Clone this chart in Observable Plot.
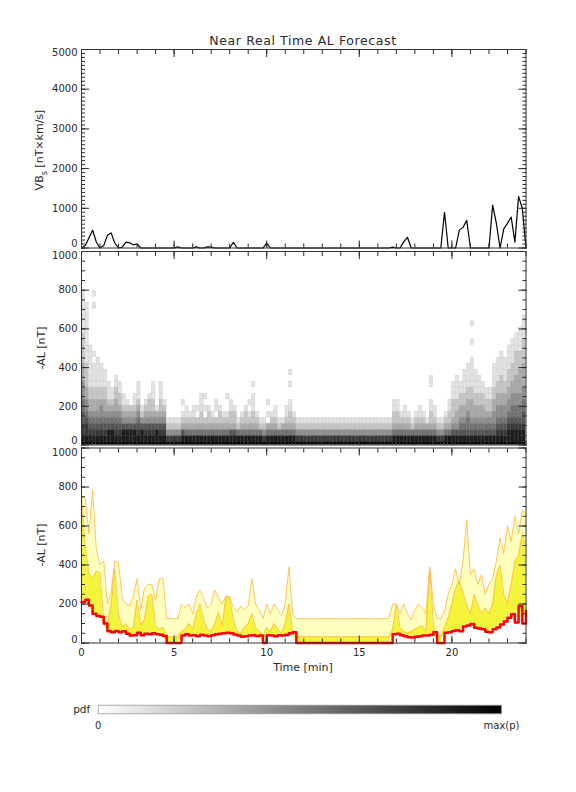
<!DOCTYPE html>
<html><head><meta charset="utf-8">
<script src="https://cdn.jsdelivr.net/npm/d3@7"></script>
<script src="https://cdn.jsdelivr.net/npm/@observablehq/plot@0.6"></script>
<style>
body{margin:0;background:#fff;}
#wrap{position:relative;width:576px;height:792px;overflow:hidden;font-family:"DejaVu Sans",sans-serif;color:#2a2a2a;}
#wrap svg{position:absolute;left:0;}
.lbl{position:absolute;white-space:nowrap;transform:translate(-50%,-50%);font-size:11px;}
.rot{transform:translate(-50%,-50%) rotate(-90deg);}
</style></head><body><div id="wrap"></div>
<script>
// ---------------- DATA ----------------
// time grid: 0 .. 24 min every 0.2 min (121 samples)
const timeMin = d3.range(121).map(i => Math.round(i * 2) / 10);

// VBs [nT x km/s]
const vbs = [
  0, 60, 250, 450, 150, 0, 60, 320, 380, 120,
  0, 20, 150, 130, 80, 100, 0, 0, 0, 0,
  0, 0, 0, 0, 0, 0, 30, 0, 0, 0,
  0, 30, 0, 0, 30, 20, 0, 0, 0, 0,
  0, 140, 0, 0, 0, 0, 0, 0, 0, 0,
  120, 0, 0, 0, 0, 0, 0, 0, 0, 0,
  0, 0, 0, 0, 0, 0, 0, 0, 0, 0,
  0, 0, 0, 0, 0, 0, 0, 0, 0, 0,
  0, 0, 0, 0, 20, 0, 0, 160, 270, 0,
  0, 0, 0, 0, 0, 0, 0, 0, 900, 0,
  0, 0, 450, 520, 700, 0, 0, 0, 0, 0,
  0, 1080, 620, 0, 480, 620, 780, 150, 1300, 1000,
  0
];

// -AL forecast: median (red)
const alMedian = [
  210, 222, 192, 150, 138, 135, 100, 60, 55, 62,
  55, 60, 48, 38, 40, 52, 40, 48, 45, 50,
  45, 42, 36, 0, 0, 0, 0, 38, 45, 38,
  40, 35, 42, 38, 35, 40, 45, 48, 50, 52,
  50, 44, 38, 32, 35, 38, 40, 36, 38, 0,
  40, 38, 35, 40, 38, 42, 50, 55, 0, 0,
  0, 0, 0, 0, 0, 0, 0, 0, 0, 0,
  0, 0, 0, 0, 0, 0, 0, 0, 0, 0,
  0, 0, 0, 0, 45, 48, 40, 35, 30, 28,
  32, 35, 38, 38, 42, 55, 0, 0, 52, 55,
  62, 65, 60, 85, 90, 98, 78, 75, 70, 58,
  55, 70, 80, 95, 110, 130, 148, 105, 190, 100,
  165
];

// -AL forecast: inner upper quantile (bright yellow top)
const alInner = [
  740, 500, 360, 330, 370, 360, 120, 100, 200, 380,
  150, 80, 100, 70, 80, 220, 90, 120, 240, 250,
  90, 70, 80, 32, 32, 32, 32, 60, 70, 100,
  70, 150, 200, 120, 70, 60, 100, 160, 90, 240,
  230, 120, 60, 50, 80, 100, 150, 80, 60, 32,
  80, 60, 100, 70, 50, 100, 200, 60, 32, 32,
  32, 32, 32, 32, 32, 32, 32, 32, 32, 32,
  32, 32, 32, 32, 32, 32, 32, 32, 32, 32,
  32, 32, 32, 32, 70, 200, 80, 60, 50, 60,
  70, 80, 90, 60, 380, 90, 32, 32, 80, 130,
  200, 280, 320, 260, 200, 150, 250, 200, 150, 180,
  150, 200, 350, 400, 250, 200, 300, 420, 450, 560,
  500
];

// -AL forecast: outer upper quantile (light yellow top)
const alOuter = [
  750, 745, 560, 785, 480, 400, 420, 200, 260, 420,
  410, 230, 200, 190, 240, 330, 170, 280, 300, 300,
  220, 330, 330, 125, 125, 125, 125, 200, 180, 200,
  150, 240, 270, 230, 180, 200, 270, 230, 200, 240,
  240, 180, 160, 190, 170, 190, 330, 200, 170, 125,
  200, 150, 200, 170, 140, 200, 390, 150, 125, 125,
  125, 125, 125, 125, 125, 125, 125, 125, 125, 125,
  125, 125, 125, 125, 125, 125, 125, 125, 125, 125,
  125, 125, 125, 125, 200, 200, 150, 200, 150, 120,
  170, 200, 180, 150, 390, 200, 125, 125, 160, 250,
  300, 380, 300, 420, 630, 350, 380, 300, 350, 250,
  300, 330, 420, 540, 460, 600, 520, 650, 560, 680,
  665
];

// pdf of -AL: one string per 0.2-min column; one digit (0..9) per 31.25 nT bin, bins centred on 0, 31.25, 62.5, ...
const pdfBinWidth = 31.25;
const pdfColumns = [
  "98776655444333222221111111", "987765443322221111111111", "98765433221111111", "98765433221111010000000101", "987654332211111",
  "98765443221111", "9876543322111", "98865432111", "9886543211", "987654332211",
  "98765432211", "988643211", "98864321", "9886432", "988643211",
  "98765432111", "9886421", "98764321", "987643221", "98764322111",
  "9886431", "98764322111", "98764321", "97421", "97421",
  "97421", "97421", "98632101", "9853211", "985321",
  "9853211", "9853201", "985322111", "985320101", "9853221",
  "985321", "98532011", "9853221", "985321", "985321001",
  "98632211", "9863221", "98521", "985321", "9853221",
  "98532101", "98532211101", "985321", "98521", "97421",
  "98530101", "985321", "9853211", "98521", "98531",
  "9853211", "9853221100101", "985321", "97421", "97421",
  "97421", "97421", "97421", "97421", "97421",
  "97421", "97421", "97421", "97421", "97421",
  "97421", "97421", "97421", "97421", "97421",
  "97421", "97421", "97421", "97421", "97421",
  "97421", "97421", "97421", "97421", "98532211",
  "98532211", "985321", "9853211", "985321", "98521",
  "985321", "9853211", "985321", "98531", "985322110011",
  "9853211", "97421", "97421", "985321", "98532211",
  "98643222111", "986433221111", "98654332211", "9865433221111", "98655433221111",
  "986543332211111001001", "9865433221111", "986543322111", "98654332211", "9865432211",
  "9865432211", "98654433221111", "987654433221111", "9876544332221111", "987654433221111",
  "98876544332221111", "988765544332221111", "9887655443332222111", "98876554433332221111", "9887665544333322221111"
];

// axis ticks
const timeMajor = [0, 5, 10, 15, 20];
const timeMinor = d3.range(0, 25);
const vbsMajor = [0, 1000, 2000, 3000, 4000, 5000];
const vbsMinor = d3.range(0, 5001, 100);
const alMajor = [0, 200, 400, 600, 800, 1000];
const alMinor = d3.range(0, 1001, 50);

// ---------------- TABLES ----------------
const series = timeMin.map((t, i) => ({t, vbs: vbs[i], med: alMedian[i], inner: alInner[i], outer: alOuter[i]}));
const cells = [];
pdfColumns.forEach((s, i) => {
  [...s].forEach((ch, j) => {
    const p = +ch;
    if (p > 0) cells.push({t1: timeMin[i], t2: timeMin[i + 1], v1: (j - 0.5) * pdfBinWidth, v2: (j + 0.5) * pdfBinWidth, p});
  });
});

// ---------------- LAYOUT ----------------
const W = 576, ML = 81, MR = 50.5;
const wrap = document.getElementById("wrap");
const baseStyle = {fontFamily: "DejaVu Sans, sans-serif", fontSize: "10px", color: "#2a2a2a", background: "transparent", overflow: "visible"};
const num = d => String(d);

function frameAxes(yMajor, yMinor, showXLabels, dyFirst, dyLast) {
  const none = () => "";
  const first = yMajor[0], last = yMajor[yMajor.length - 1];
  const inner = yMajor.slice(1, -1);
  return [
    Plot.axisY({anchor: "left", ticks: yMinor, tickSize: -4, tickFormat: none, label: null}),
    Plot.axisY({anchor: "right", ticks: yMinor, tickSize: -4, tickFormat: none, label: null}),
    Plot.axisY({anchor: "left", ticks: yMajor, tickSize: -8, tickFormat: none, label: null}),
    Plot.axisY({anchor: "right", ticks: yMajor, tickSize: -8, tickFormat: none, label: null}),
    Plot.axisY({anchor: "left", ticks: inner, tickSize: 0, tickPadding: 4, tickFormat: num, label: null}),
    Plot.axisY({anchor: "left", ticks: [first], tickSize: 0, tickPadding: 4, tickFormat: num, dy: dyFirst, label: null}),
    Plot.axisY({anchor: "left", ticks: [last], tickSize: 0, tickPadding: 4, tickFormat: num, dy: dyLast, label: null}),
    Plot.axisX({anchor: "bottom", ticks: timeMinor, tickSize: -4, tickFormat: none, label: null}),
    Plot.axisX({anchor: "top", ticks: timeMinor, tickSize: -4, tickFormat: none, label: null}),
    Plot.axisX({anchor: "bottom", ticks: timeMajor, tickSize: -7, tickFormat: showXLabels ? num : none, tickPadding: 13, label: null}),
    Plot.axisX({anchor: "top", ticks: timeMajor, tickSize: -7, tickFormat: none, label: null}),
    Plot.frame({stroke: "#333", strokeWidth: 1})
  ];
}

function place(svg, top) {
  svg.style.top = top + "px";
  wrap.appendChild(svg);
}

// Top panel: VBs
place(Plot.plot({
  width: W, height: 260, marginLeft: ML, marginRight: MR, marginTop: 49, marginBottom: 12.5,
  style: baseStyle,
  x: {domain: [0, 24]}, y: {domain: [0, 5000]},
  marks: [
    Plot.lineY(series, {x: "t", y: "vbs", stroke: "#000", strokeWidth: 1.2}),
    ...frameAxes(vbsMajor, vbsMinor, false, -4, 3.5)
  ]
}), 0);

// Middle panel: pdf heatmap
place(Plot.plot({
  width: W, height: 215, marginLeft: ML, marginRight: MR, marginTop: 11, marginBottom: 10.5,
  style: baseStyle,
  x: {domain: [0, 24]}, y: {domain: [0, 1000]},
  color: {type: "linear", domain: [0, 9], range: ["#ffffff", "#000000"]},
  marks: [
    Plot.rect(cells, {x1: "t1", x2: "t2", y1: "v1", y2: "v2", fill: "p", stroke: d => Math.min(9, d.p + 0.7), strokeWidth: 0.5, inset: 0.25, clip: true}),
    ...frameAxes(alMajor, alMinor, false, -4.5, 4.5)
  ]
}), 240);

// Bottom panel: quantile bands
place(Plot.plot({
  width: W, height: 243, marginLeft: ML, marginRight: MR, marginTop: 10.5, marginBottom: 37.5,
  style: baseStyle,
  x: {domain: [0, 24]}, y: {domain: [0, 1000]},
  marks: [
    Plot.areaY(series, {x: "t", y1: "inner", y2: "outer", fill: "#ffffbe"}),
    Plot.areaY(series, {x: "t", y1: "med", y2: "inner", fill: "#f4f43c"}),
    Plot.lineY(series, {x: "t", y: "outer", stroke: "#ffb548", strokeWidth: 0.8}),
    Plot.lineY(series, {x: "t", y: "inner", stroke: "#ffb548", strokeWidth: 0.8}),
    Plot.lineY(series, {x: "t", y: "med", stroke: "#ff0000", strokeWidth: 2.5, curve: "step-after"}),
    ...frameAxes(alMajor, alMinor, true, -3.5, 5)
  ]
}), 437);

// Legend: pdf colour bar
place(Plot.plot({
  width: W, height: 45, marginLeft: 97.7, marginRight: 75, marginTop: 9.7, marginBottom: 26.7,
  style: baseStyle,
  x: {domain: [0, 1]}, y: {domain: [0, 1]},
  color: {type: "linear", domain: [0, 1], range: ["#ffffff", "#000000"]},
  marks: [
    Plot.raster({x1: 0, x2: 1, y1: 0, y2: 1, width: 400, height: 1, fill: (x, y) => x}),
    Plot.frame({stroke: "#999", strokeWidth: 0.8}),
    Plot.axisX({anchor: "bottom", ticks: [0, 1], tickSize: 0, tickPadding: 8, tickFormat: d => d === 0 ? "0" : "max(p)", label: null}),
    Plot.axisY({anchor: "left", ticks: [], label: null}),
    Plot.text(["pdf"], {text: d => d, frameAnchor: "left", dx: -8, textAnchor: "end", fontSize: 10.5})
  ]
}), 695);

// Titles / axis labels
function label(html, x, y, cls, extra) {
  const d = document.createElement("div");
  d.className = "lbl" + (cls ? " " + cls : "");
  d.style.left = x + "px"; d.style.top = y + "px";
  if (extra) Object.assign(d.style, extra);
  d.innerHTML = html;
  wrap.appendChild(d);
}
label("Near Real Time AL Forecast", 303, 40, "", {fontSize: "12.5px", letterSpacing: "0.6px"});
label("VB<sub style='font-size:8px'>s</sub> [nT×km/s]", 41, 150, "rot");
label("-AL [nT]", 41, 348, "rot");
label("-AL [nT]", 41, 545, "rot");
label("Time [min]", 303, 667);
</script></body></html>
